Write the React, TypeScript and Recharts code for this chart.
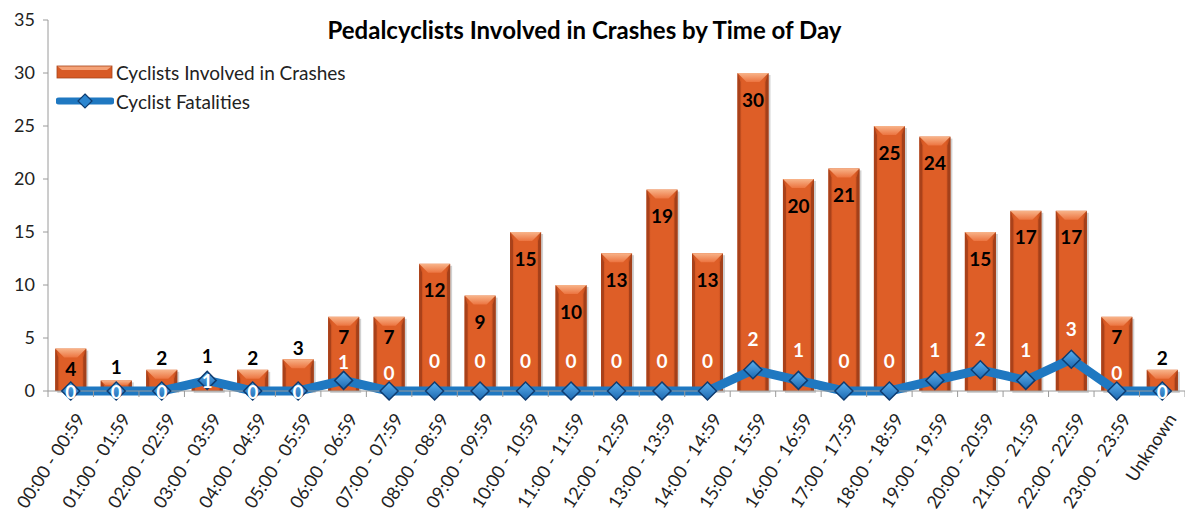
import React from "react";
import { Bar, ComposedChart, LabelList, Line, XAxis, YAxis } from "recharts";

const timeSlots = [
    "00:00 - 00:59", "01:00 - 01:59", "02:00 - 02:59", "03:00 - 03:59", "04:00 - 04:59",
    "05:00 - 05:59", "06:00 - 06:59", "07:00 - 07:59", "08:00 - 08:59", "09:00 - 09:59",
    "10:00 - 10:59", "11:00 - 11:59", "12:00 - 12:59", "13:00 - 13:59", "14:00 - 14:59",
    "15:00 - 15:59", "16:00 - 16:59", "17:00 - 17:59", "18:00 - 18:59", "19:00 - 19:59",
    "20:00 - 20:59", "21:00 - 21:59", "22:00 - 22:59", "23:00 - 23:59", "Unknown",
];
const crashes = [4, 1, 2, 1, 2, 3, 7, 7, 12, 9, 15, 10, 13, 19, 13, 30, 20, 21, 25, 24, 15, 17, 17, 7, 2];
const fatalities = [0, 0, 0, 1, 0, 0, 1, 0, 0, 0, 0, 0, 0, 0, 0, 2, 1, 0, 0, 1, 2, 1, 3, 0, 0];
const yTicks = [0, 5, 10, 15, 20, 25, 30, 35];

const data = timeSlots.map((slot, i) => ({ slot, crashes: crashes[i], fatalities: fatalities[i] }));

const CHART_W = 1185;
const CHART_H = 513;
const Y_W = 48;
const band = (CHART_W - Y_W) / timeSlots.length;
const FONT = "Lato, 'Open Sans', sans-serif";

const BevelBar = (props: any) => {
    const { x, y, width: w, height: h } = props;
    if (!h || h <= 0) return null;
    const b = Math.min(9, h * 0.45);
    const s = 3;
    return (
        <g>
            <defs>
                <linearGradient id="barBody" x1="0" y1="0" x2="1" y2="0">
                    <stop offset="0%" stopColor="#c24c1c" />
                    <stop offset="15%" stopColor="#de5e27" />
                    <stop offset="85%" stopColor="#de5e27" />
                    <stop offset="100%" stopColor="#b84719" />
                </linearGradient>
                <linearGradient id="barTop" x1="0" y1="0" x2="0" y2="1">
                    <stop offset="0%" stopColor="#f8b48a" />
                    <stop offset="100%" stopColor="#ec7440" />
                </linearGradient>
            </defs>
            <rect x={x + 2} y={y + 2} width={w} height={h} fill="rgba(0,0,0,0.18)" />
            <rect x={x} y={y} width={w} height={h} fill="url(#barBody)" />
            <polygon points={`${x},${y} ${x + s},${y + b} ${x + s},${y + h} ${x},${y + h}`} fill="#a9411a" />
            <polygon points={`${x + w},${y} ${x + w - s},${y + b} ${x + w - s},${y + h} ${x + w},${y + h}`} fill="#a3401a" />
            <polygon points={`${x},${y} ${x + w},${y} ${x + w - b},${y + b} ${x + b},${y + b}`} fill="url(#barTop)" />
        </g>
    );
};

const Diamond = (props: any) => {
    const { cx, cy } = props;
    if (cx == null || cy == null) return null;
    const r = 9;
    return (
        <g>
            <defs>
                <linearGradient id="dia" x1="0" y1="0" x2="0" y2="1">
                    <stop offset="0%" stopColor="#5cb0ee" />
                    <stop offset="100%" stopColor="#1b67b0" />
                </linearGradient>
            </defs>
            <polygon
                points={`${cx},${cy - r} ${cx + r},${cy} ${cx},${cy + r} ${cx - r},${cy}`}
                fill="url(#dia)"
                stroke="#0f3c70"
                strokeWidth={1.5}
            />
        </g>
    );
};

const CrashLabel = (props: any) => {
    const { x, y, width, height, value, index } = props;
    const inside = height > 35;
    // y of the fatality marker in the same column, from the bar's own scale
    const markerY = y + height - fatalities[index] * (height / value);
    const ly = inside ? y + (height < 80 ? 20 : 26) : Math.min(y - 12, markerY - 25);
    return (
        <text
            x={x + width / 2}
            y={ly}
            textAnchor="middle"
            dominantBaseline="central"
            fontFamily={FONT}
            fontWeight={700}
            fontSize={19}
            fill="#000"
        >
            {value}
        </text>
    );
};

const FatalityLabel = (props: any) => {
    const { x, y, value, index } = props;
    const c = crashes[index];
    const dy = c <= 4 ? 0 : c <= 7 ? -19 : -31;
    return (
        <text
            x={x}
            y={y + dy}
            textAnchor="middle"
            dominantBaseline="central"
            fontFamily={FONT}
            fontWeight={700}
            fontSize={19}
            fill="#fff"
        >
            {value}
        </text>
    );
};

const XTick = (props: any) => {
    const { x, y, payload, index } = props;
    const ax = x + 9;
    const ay = y + 24;
    return (
        <g>
            <line x1={x - band / 2} y1={y} x2={x - band / 2} y2={y + 6} stroke="#9a9a9a" />
            {index === timeSlots.length - 1 && (
                <line x1={x + band / 2} y1={y} x2={x + band / 2} y2={y + 6} stroke="#9a9a9a" />
            )}
            <text
                x={ax}
                y={ay}
                transform={`rotate(-57 ${ax} ${ay})`}
                textAnchor="end"
                dominantBaseline="central"
                fontFamily={FONT}
                fontSize={18}
                fill="#222"
            >
                {payload.value}
            </text>
        </g>
    );
};

const LegendBox = () => (
    <div style={{ position: "absolute", left: 56, top: 58, fontFamily: FONT, fontSize: 19, color: "#222" }}>
        <div style={{ display: "flex", alignItems: "center", height: 28 }}>
            <svg width={58} height={14}>
                <rect x={1} y={1} width={55} height={12} fill="#d85a25" />
                <polygon points="1,1 56,1 51,5 6,5" fill="#f4a277" />
                <rect x={1} y={1} width={55} height={12} fill="none" stroke="#a9441b" strokeWidth={0.8} />
            </svg>
            <span style={{ marginLeft: 2 }}>Cyclists Involved in Crashes</span>
        </div>
        <div style={{ display: "flex", alignItems: "center", height: 30 }}>
            <svg width={58} height={20}>
                <line x1={3} y1={10} x2={55} y2={10} stroke="#1f78c1" strokeWidth={7} strokeLinecap="round" />
                <polygon points="29,3 36,10 29,17 22,10" fill="#2c86d0" stroke="#0f3c70" strokeWidth={1.2} />
            </svg>
            <span style={{ marginLeft: 2 }}>Cyclist Fatalities</span>
        </div>
    </div>
);

export default function App() {
    return (
        <div style={{ position: "fixed", left: 0, top: 0, width: CHART_W, height: CHART_H, background: "#fff" }}>
            <div
                style={{
                    position: "absolute",
                    left: -8,
                    top: 15,
                    width: CHART_W,
                    textAlign: "center",
                    fontFamily: FONT,
                    fontWeight: 700,
                    fontSize: 24,
                    color: "#000",
                }}
            >
                Pedalcyclists Involved in Crashes by Time of Day
            </div>
            <ComposedChart
                width={CHART_W}
                height={CHART_H}
                data={data}
                margin={{ top: 20, right: 0, bottom: 0, left: 0 }}
                barCategoryGap="16%"
            >
                <XAxis
                    dataKey="slot"
                    interval={0}
                    height={122}
                    tickSize={0}
                    tickMargin={0}
                    axisLine={{ stroke: "#9a9a9a" }}
                    tick={<XTick />}
                />
                <YAxis
                    width={Y_W}
                    domain={[0, 35]}
                    ticks={yTicks}
                    tickSize={5}
                    tickMargin={8}
                    axisLine={{ stroke: "#9a9a9a" }}
                    tickLine={{ stroke: "#9a9a9a" }}
                    tick={{ fontFamily: FONT, fontSize: 18, fill: "#222" }}
                />
                <Bar dataKey="crashes" shape={<BevelBar />} isAnimationActive={false}>
                    <LabelList dataKey="crashes" content={<CrashLabel />} />
                </Bar>
                <Line
                    type="linear"
                    dataKey="fatalities"
                    stroke="#1f78c1"
                    strokeWidth={9}
                    strokeLinejoin="round"
                    dot={<Diamond />}
                    activeDot={false}
                    isAnimationActive={false}
                >
                    <LabelList dataKey="fatalities" content={<FatalityLabel />} />
                </Line>
            </ComposedChart>
            <LegendBox />
        </div>
    );
}
